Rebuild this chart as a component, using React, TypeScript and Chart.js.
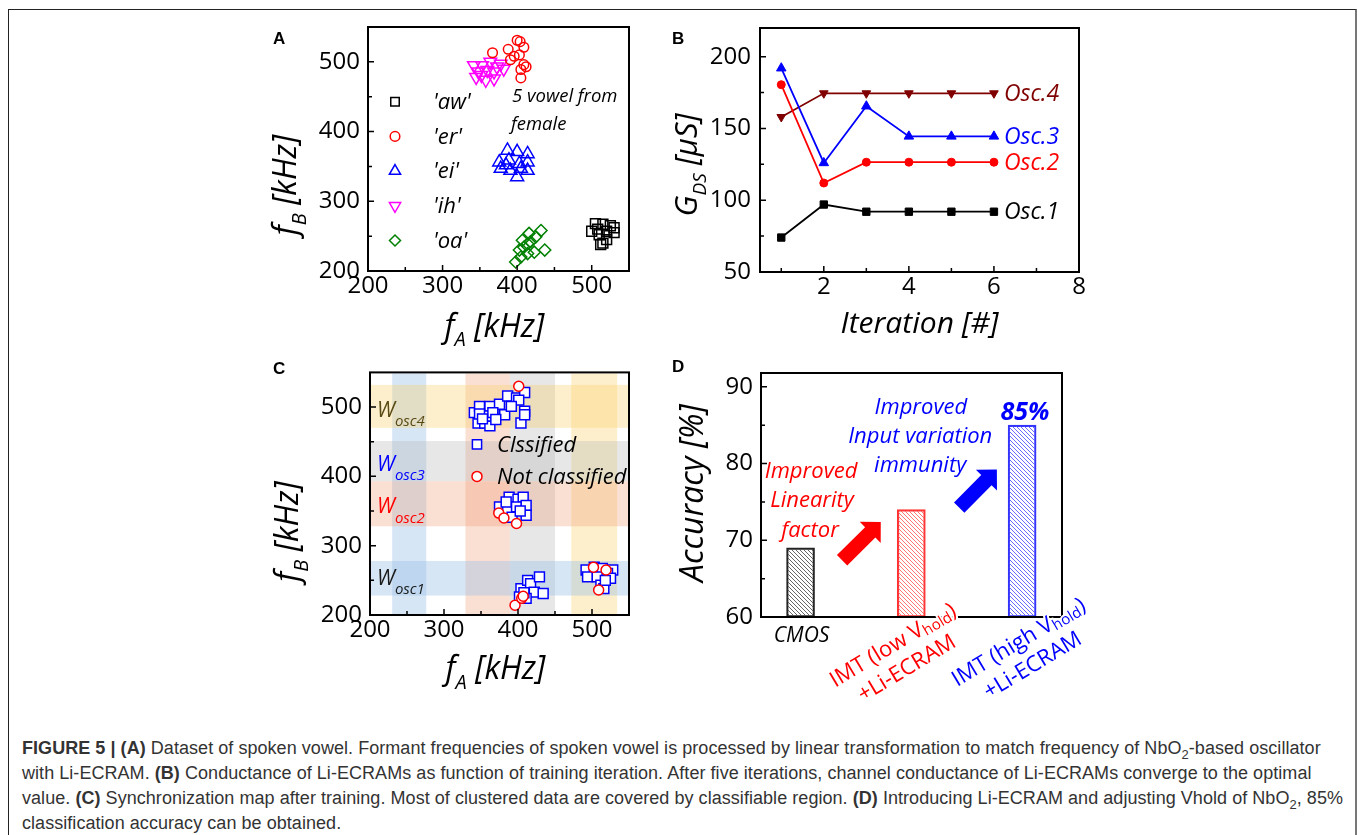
import React, { useEffect, useRef } from 'react';
import { Chart, registerables } from 'chart.js';

Chart.register(...registerables);

const FONT = '"Open Sans", "DejaVu Sans", sans-serif';

// ---------------- Panel A : vowel dataset ----------------
const vowelAW: number[][] = [[505,268],[515,267],[530,262],[500,257],[520,257],[530,255],[510,252],[515,240],[512,238],[520,245],[508,260],[525,265]];
const vowelER: number[][] = [[367,513],[388,518],[400,531],[404,529],[409,521],[403,510],[391,503],[409,496],[405,489],[405,477],[396,508],[412,493]];
const vowelEI: number[][] = [[387,373],[400,371],[414,368],[376,356],[389,359],[403,354],[414,356],[378,347],[391,344],[405,347],[414,344],[400,335],[385,352]];
const vowelIH: number[][] = [[342,495],[353,495],[364,500],[373,493],[348,486],[360,488],[369,486],[345,478],[358,474],[369,476],[382,490],[378,497],[352,481]];
const vowelOA: number[][] = [[398,213],[405,220],[414,225],[409,234],[418,242],[416,254],[425,249],[432,258],[437,230],[423,227],[407,244],[403,230],[414,239]];
const vowelNames = ["'aw'", "'er'", "'ei'", "'ih'", "'oa'"];
const freqTicks = [200, 300, 400, 500];
const freqMinor = [250, 350, 450];

// ---------------- Panel B : conductance vs iteration ----------------
const iterations = [1, 2, 3, 4, 5, 6];
const osc1 = [74, 97, 92, 92, 92, 92];
const osc2 = [180.5, 112, 126.5, 126.5, 126.5, 126.5];
const osc3 = [192, 126, 165.5, 144.5, 144.5, 144.5];
const osc4 = [158, 174.5, 174.5, 174.5, 174.5, 174.5];
const oscNames = ['Osc.1', 'Osc.2', 'Osc.3', 'Osc.4'];
const iterTicks = [2, 4, 6, 8];
const iterMinor = [1, 3, 5, 7];
const gdsTicks = [50, 100, 150, 200];
const gdsMinor = [75, 125, 175];

// ---------------- Panel C : synchronization map ----------------
const classified: number[][] = [
  [341,492],[348,501],[362,501],[375,504],[346,477],[355,477],[362,473],[366,487],[357,487],[382,489],[386,516],[398,513],[409,521],[401,510],[391,501],[409,494],[404,477],[409,489],[348,490],[366,492],[370,482],[352,483],
  [388,370],[400,367],[407,370],[375,356],[386,353],[398,356],[411,358],[392,341],[411,344],[384,363],[403,350],
  [404,238],[413,250],[417,245],[429,255],[422,233],[434,231],[411,224],[402,226],[408,232],
  [492,265],[503,269],[514,267],[528,265],[494,255],[507,255],[521,260],[525,253],[512,243],[516,238],[518,250],
];
const notClassified: number[][] = [[401,530],[374,347],[381,340],[398,332],[396,214],[405,224],[407,227],[502,269],[519,265],[509,236]];
const oscWindowsX: number[][] = [[230, 276], [329, 389], [389, 450], [472, 534]];
const oscWindowsY: number[][] = [[228, 278], [328, 393], [393, 451], [470, 532]];
const windowNames = ['osc1', 'osc2', 'osc3', 'osc4'];
const mapLegend = ['Clssified', 'Not classified'];

// ---------------- Panel D : accuracy ----------------
const systemPos = [1, 2, 3];
const accuracy = [69, 74, 85];
const accTicks = [60, 70, 80, 90];
const accMinor = [65, 75, 85];

type Part = { t: string; sub?: boolean };
const systemLabels: Part[][][] = [
  [[{ t: 'CMOS' }]],
  [[{ t: 'IMT (low V' }, { t: 'hold', sub: true }, { t: ')' }], [{ t: '+Li-ECRAM' }]],
  [[{ t: 'IMT (high V' }, { t: 'hold', sub: true }, { t: ')' }], [{ t: '+Li-ECRAM' }]],
];

// ---------------- helpers ----------------
type RichOpts = {
  size: number; color: string; italic?: boolean; bold?: boolean;
  align?: 'left' | 'center' | 'right'; angle?: number; baseline?: CanvasTextBaseline;
  subScale?: number; subDy?: number; halo?: boolean;
};
function drawRich(ctx: CanvasRenderingContext2D, parts: Part[], x: number, y: number, o: RichOpts) {
  const fontFor = (sub?: boolean) =>
    `${o.italic ? 'italic ' : ''}${o.bold ? 'bold ' : ''}${sub ? Math.round(o.size * (o.subScale ?? 0.62)) : o.size}px ${FONT}`;
  ctx.save();
  ctx.translate(x, y);
  if (o.angle) ctx.rotate(o.angle);
  ctx.textBaseline = o.baseline ?? 'alphabetic';
  ctx.textAlign = 'left';
  let total = 0;
  const widths = parts.map((p) => { ctx.font = fontFor(p.sub); const w = ctx.measureText(p.t).width; total += w; return w; });
  let cx = o.align === 'center' ? -total / 2 : o.align === 'right' ? -total : 0;
  parts.forEach((p, i) => {
    ctx.font = fontFor(p.sub);
    const dy = p.sub ? o.size * (o.subDy ?? 0.3) : 0;
    if (o.halo) { ctx.strokeStyle = '#fff'; ctx.lineWidth = 4; ctx.lineJoin = 'round'; ctx.strokeText(p.t, cx, dy); }
    ctx.fillStyle = o.color;
    ctx.fillText(p.t, cx, dy);
    cx += widths[i];
  });
  ctx.restore();
}

function drawMarker(ctx: CanvasRenderingContext2D, shape: string, x: number, y: number, r: number, stroke: string, fill: string) {
  ctx.save();
  ctx.beginPath();
  const tri = (start: number) => {
    for (let k = 0; k < 3; k++) {
      const a = start + (k * 2 * Math.PI) / 3;
      const px = x + Math.sin(a) * r, py = y - Math.cos(a) * r;
      if (k === 0) ctx.moveTo(px, py); else ctx.lineTo(px, py);
    }
  };
  if (shape === 'rect') { const s = r * Math.SQRT1_2; ctx.rect(x - s, y - s, 2 * s, 2 * s); }
  else if (shape === 'circle') ctx.arc(x, y, r, 0, Math.PI * 2);
  else if (shape === 'triangle') tri(0);
  else if (shape === 'triangleDown') tri(Math.PI);
  else if (shape === 'rectRot') { ctx.moveTo(x, y - r); ctx.lineTo(x + r, y); ctx.lineTo(x, y + r); ctx.lineTo(x - r, y); }
  ctx.closePath();
  ctx.fillStyle = fill; ctx.fill();
  ctx.strokeStyle = stroke; ctx.lineWidth = 1.5; ctx.stroke();
  ctx.restore();
}

function axis(min: number, max: number, ticks: number[], size: number, which: 'x' | 'y', pad: number, show = true) {
  return {
    type: 'linear' as const, min, max,
    grid: { display: false, drawTicks: false },
    border: { display: false },
    ticks: { display: show, font: { family: FONT, size: 24 }, color: '#000', padding: pad, autoSkip: false, maxRotation: 0 },
    afterBuildTicks: (s: any) => { s.ticks = ticks.map((v) => ({ value: v })); },
    afterFit: (s: any) => { if (which === 'x') s.height = size; else s.width = size; },
  };
}

function framePlugin(xMajor: number[], xMinor: number[], yMajor: number[], yMinor: number[]) {
  return {
    id: 'frameTicks',
    afterDatasetsDraw(chart: any) {
      const { ctx, chartArea: a } = chart;
      const xs = chart.scales.x, ys = chart.scales.y;
      ctx.save();
      ctx.strokeStyle = '#000';
      ctx.lineWidth = 1.5;
      ctx.beginPath();
      xMajor.forEach((v) => { const p = xs.getPixelForValue(v); ctx.moveTo(p, a.bottom); ctx.lineTo(p, a.bottom - 6); });
      xMinor.forEach((v) => { const p = xs.getPixelForValue(v); ctx.moveTo(p, a.bottom); ctx.lineTo(p, a.bottom - 4); });
      yMajor.forEach((v) => { const p = ys.getPixelForValue(v); ctx.moveTo(a.left, p); ctx.lineTo(a.left + 6, p); });
      yMinor.forEach((v) => { const p = ys.getPixelForValue(v); ctx.moveTo(a.left, p); ctx.lineTo(a.left + 4, p); });
      ctx.stroke();
      ctx.lineWidth = 2;
      ctx.strokeRect(a.left, a.top, a.right - a.left, a.bottom - a.top);
      ctx.restore();
    },
  };
}

const baseOptions = (pad: { top: number; right: number }) => ({
  responsive: false,
  animation: false as const,
  devicePixelRatio: 1,
  events: [] as any[],
  layout: { padding: { top: pad.top, right: pad.right, left: 0, bottom: 0 } },
  plugins: { legend: { display: false }, tooltip: { enabled: false }, title: { display: false } },
});

const scatterDs = (pts: number[][], color: string, style: string, r: number, rot = 0, fill = 'rgba(0,0,0,0)') => ({
  data: pts.map(([x, y]) => ({ x, y })),
  showLine: false,
  pointStyle: style as any,
  pointRadius: r,
  pointRotation: rot,
  pointBorderColor: color,
  pointBackgroundColor: fill,
  pointBorderWidth: 1.5,
  borderColor: color,
  backgroundColor: fill,
});

// ---------------- chart configs ----------------
const stylesA = [
  { color: '#000000', shape: 'rect', r: 7, rot: 0, lr: 6 },
  { color: '#ff0000', shape: 'circle', r: 4.8, rot: 0, lr: 4.8 },
  { color: '#0000ff', shape: 'triangle', r: 7.5, rot: 0, lr: 6.5 },
  { color: '#ff00ff', shape: 'triangle', r: 7.3, rot: 180, lr: 6.5 },
  { color: '#008000', shape: 'rectRot', r: 6, rot: 0, lr: 5.5 },
];

function configA(): any {
  const sets = [vowelAW, vowelER, vowelEI, vowelIH, vowelOA];
  return {
    type: 'scatter',
    data: { datasets: sets.map((s, i) => scatterDs(s, stylesA[i].color, stylesA[i].shape, stylesA[i].r, stylesA[i].rot)) },
    options: {
      ...baseOptions({ top: 27, right: 11 }),
      scales: { x: axis(200, 550, freqTicks, 84, 'x', 1), y: axis(200, 550, freqTicks, 108, 'y', 8) },
    },
    plugins: [
      framePlugin(freqTicks, freqMinor, freqTicks, freqMinor),
      {
        id: 'annotA',
        afterDatasetsDraw(chart: any) {
          const { ctx, chartArea: a } = chart;
          vowelNames.forEach((name, i) => {
            const st = stylesA[i];
            const y = a.top + 74.7 + i * 34.7;
            drawMarker(ctx, st.rot === 180 ? 'triangleDown' : st.shape, a.left + 27, y, st.lr, st.color, 'rgba(0,0,0,0)');
            drawRich(ctx, [{ t: name }], a.left + 65, y + 1, { size: 22, italic: true, color: '#000', baseline: 'middle' });
          });
          drawRich(ctx, [{ t: '5 vowel from' }], a.left + 144, a.top + 75, { size: 18.5, italic: true, color: '#000' });
          drawRich(ctx, [{ t: 'female' }], a.left + 143, a.top + 103, { size: 18.5, italic: true, color: '#000' });
          drawRich(ctx, [{ t: 'f' }, { t: 'A', sub: true }, { t: ' [kHz]' }], (a.left + a.right) / 2 - 4, a.bottom + 65.7, { size: 32, italic: true, color: '#000', align: 'center', subDy: 0.3 });
          drawRich(ctx, [{ t: 'f' }, { t: 'B', sub: true }, { t: ' [kHz]' }], a.left - 72, a.top + 158, { size: 32, italic: true, color: '#000', align: 'center', angle: -Math.PI / 2 });
        },
      },
    ],
  };
}

const oscSeries = [osc1, osc2, osc3, osc4];
const stylesB = [
  { color: '#000000', shape: 'rect', r: 5.2, rot: 0 },
  { color: '#ff0000', shape: 'circle', r: 4, rot: 0 },
  { color: '#0000ff', shape: 'triangle', r: 5.5, rot: 0 },
  { color: '#800000', shape: 'triangle', r: 5, rot: 180 },
];

function configB(): any {
  return {
    type: 'line',
    data: {
      datasets: oscSeries.map((s, i) => ({
        data: iterations.map((x, j) => ({ x, y: s[j] })),
        borderColor: stylesB[i].color,
        backgroundColor: stylesB[i].color,
        borderWidth: 1.8,
        pointStyle: stylesB[i].shape,
        pointRadius: stylesB[i].r,
        pointRotation: stylesB[i].rot,
        pointBorderWidth: 1,
        pointBackgroundColor: stylesB[i].color,
        pointBorderColor: stylesB[i].color,
        tension: 0,
      })),
    },
    options: {
      ...baseOptions({ top: 28, right: 21 }),
      scales: { x: axis(0.5, 8, iterTicks, 83, 'x', 1), y: axis(50, 220, gdsTicks, 100, 'y', 9) },
    },
    plugins: [
      framePlugin(iterTicks, iterMinor, gdsTicks, gdsMinor),
      {
        id: 'annotB',
        afterDatasetsDraw(chart: any) {
          const { ctx, chartArea: a, scales } = chart;
          oscSeries.forEach((s, i) => {
            const last = iterations.length - 1;
            const px = scales.x.getPixelForValue(iterations[last]) + 10;
            const py = scales.y.getPixelForValue(s[last]) + 1;
            drawRich(ctx, [{ t: oscNames[i] }], px, py, { size: 23, italic: true, color: stylesB[i].color, baseline: 'middle' });
          });
          drawRich(ctx, [{ t: 'Iteration [#]' }], (a.left + a.right) / 2, a.bottom + 61.3, { size: 30, italic: true, color: '#000', align: 'center' });
          drawRich(ctx, [{ t: 'G' }, { t: 'DS', sub: true }, { t: ' [\u03bcS]' }], a.left - 63, a.top + 137, { size: 31, italic: true, color: '#000', align: 'center', angle: -Math.PI / 2 });
        },
      },
    ],
  };
}

const bandColors = ['rgba(150,190,230,0.38)', 'rgba(240,150,110,0.30)', 'rgba(180,180,180,0.32)', 'rgba(250,205,100,0.33)'];
const windowTextColors = ['#1a1a1a', '#ff0000', '#0000ff', '#5a4a14'];
const windowLabelY = [244, 347, 408, 486];

function configC(): any {
  return {
    type: 'scatter',
    data: {
      datasets: [
        scatterDs(notClassified, '#ff0000', 'circle', 5, 0, '#ffffff'),
        scatterDs(classified, '#0000ff', 'rect', 7, 0, '#ffffff'),
      ],
    },
    options: {
      ...baseOptions({ top: 22, right: 11 }),
      scales: { x: axis(200, 550, freqTicks, 75, 'x', 1), y: axis(200, 550, freqTicks, 110, 'y', 8) },
    },
    plugins: [
      {
        id: 'bandsC',
        beforeDatasetsDraw(chart: any) {
          const { ctx, chartArea: a, scales } = chart;
          ctx.save();
          oscWindowsX.forEach(([lo, hi], i) => {
            const x0 = scales.x.getPixelForValue(lo), x1 = scales.x.getPixelForValue(hi);
            ctx.fillStyle = bandColors[i];
            ctx.fillRect(x0, a.top + 1, x1 - x0, a.bottom - a.top - 2);
          });
          oscWindowsY.forEach(([lo, hi], i) => {
            const y0 = scales.y.getPixelForValue(hi), y1 = scales.y.getPixelForValue(lo);
            ctx.fillStyle = bandColors[i];
            ctx.fillRect(a.left, y0, a.right - a.left, y1 - y0);
          });
          ctx.restore();
        },
      },
      framePlugin(freqTicks, freqMinor, freqTicks, freqMinor),
      {
        id: 'annotC',
        afterDatasetsDraw(chart: any) {
          const { ctx, chartArea: a, scales } = chart;
          windowNames.forEach((n, i) => {
            drawRich(ctx, [{ t: 'W' }, { t: n, sub: true }], a.left + 7, scales.y.getPixelForValue(windowLabelY[i]), { size: 21, italic: true, color: windowTextColors[i], subScale: 0.72, subDy: 0.45 });
          });
          drawMarker(ctx, 'rect', a.left + 107, a.top + 72, 6.5, '#0000ff', '#ffffff');
          drawMarker(ctx, 'circle', a.left + 107, a.top + 104, 5, '#ff0000', '#ffffff');
          drawRich(ctx, [{ t: mapLegend[0] }], a.left + 127, a.top + 73, { size: 22, italic: true, color: '#000', baseline: 'middle' });
          drawRich(ctx, [{ t: mapLegend[1] }], a.left + 127, a.top + 105, { size: 22, italic: true, color: '#000', baseline: 'middle' });
          drawRich(ctx, [{ t: 'f' }, { t: 'A', sub: true }, { t: ' [kHz]' }], (a.left + a.right) / 2 - 4, a.bottom + 64, { size: 32, italic: true, color: '#000', align: 'center' });
          drawRich(ctx, [{ t: 'f' }, { t: 'B', sub: true }, { t: ' [kHz]' }], a.left - 72, a.top + 159, { size: 32, italic: true, color: '#000', align: 'center', angle: -Math.PI / 2 });
        },
      },
    ],
  };
}

function hatch(color: string) {
  const s = 4;
  const c = document.createElement('canvas');
  c.width = s; c.height = s;
  const g = c.getContext('2d')!;
  g.strokeStyle = color; g.lineWidth = 0.9;
  for (const k of [-s, 0, s]) { g.beginPath(); g.moveTo(k, 0); g.lineTo(k + s, s); g.stroke(); }
  return g.createPattern(c, 'repeat')!;
}

const barBorders = ['#222222', '#ff3333', '#3333ff'];
const barHatch = ['#555555', '#ff6666', '#5a5aff'];
const labelColors = ['#000000', '#ff0000', '#0000ff'];
// rotated category label placement: [dx from category px, dy below axis] per line
const labelPlaces = [[[1, 25]], [[-15, 34], [-1, 57]], [[0, 31], [14, 54]]];

function arrow(ctx: CanvasRenderingContext2D, tx: number, ty: number, px: number, py: number, color: string) {
  const L = Math.hypot(px - tx, py - ty);
  const dx = (px - tx) / L, dy = (py - ty) / L;
  const nx = -dy, ny = dx;
  const head = 14.85, hh = 14.85, sh = 7.3;
  const bx = px - dx * head, by = py - dy * head;
  ctx.save();
  ctx.beginPath();
  ctx.moveTo(tx + nx * sh, ty + ny * sh);
  ctx.lineTo(bx + nx * sh, by + ny * sh);
  ctx.lineTo(bx + nx * hh, by + ny * hh);
  ctx.lineTo(px, py);
  ctx.lineTo(bx - nx * hh, by - ny * hh);
  ctx.lineTo(bx - nx * sh, by - ny * sh);
  ctx.lineTo(tx - nx * sh, ty - ny * sh);
  ctx.closePath();
  ctx.fillStyle = color;
  ctx.fill();
  ctx.restore();
}

const noteRed = ['Improved', 'Linearity', 'factor'];
const noteRedPos = [[1.095, 78.08], [1.104, 74.3], [1.086, 70.43]];
const noteBlue = ['Improved', 'Input variation', 'immunity'];
const noteBluePos = [[2.086, 86.52], [2.08, 82.69], [2.08, 78.9]];
const arrowRed = [[1.375, 67.39], [1.724, 72.39]];
const arrowBlue = [[2.432, 74.26], [2.772, 79.22]];

function configD(): any {
  return {
    type: 'bar',
    data: {
      datasets: [{
        data: systemPos.map((x, i) => ({ x, y: accuracy[i] })),
        backgroundColor: barHatch.map((c) => hatch(c)),
        borderColor: barBorders,
        borderWidth: 1.5,
        borderSkipped: false,
        barThickness: 28,
        base: 60,
      }],
    },
    options: {
      ...baseOptions({ top: 23, right: 38 }),
      scales: { x: axis(0.643, 3.36, [], 93, 'x', 1, false), y: axis(60, 91.8, accTicks, 101, 'y', 8) },
    },
    plugins: [
      framePlugin([], [], accTicks, accMinor),
      {
        id: 'annotD',
        afterDatasetsDraw(chart: any) {
          const { ctx, chartArea: a, scales } = chart;
          const X = (v: number) => scales.x.getPixelForValue(v);
          const Y = (v: number) => scales.y.getPixelForValue(v);
          noteRed.forEach((t, i) => drawRich(ctx, [{ t }], X(noteRedPos[i][0]), Y(noteRedPos[i][1]), { size: 22, italic: true, color: '#ff0000', align: 'center' }));
          noteBlue.forEach((t, i) => drawRich(ctx, [{ t }], X(noteBluePos[i][0]), Y(noteBluePos[i][1]), { size: 22, italic: true, color: '#0000ff', align: 'center' }));
          drawRich(ctx, [{ t: `${accuracy[2]}%` }], X(3.025), Y(85.65), { size: 25, italic: true, bold: true, color: '#0000ff', align: 'center' });
          arrow(ctx, X(arrowRed[0][0]), Y(arrowRed[0][1]), X(arrowRed[1][0]), Y(arrowRed[1][1]), '#ff0000');
          arrow(ctx, X(arrowBlue[0][0]), Y(arrowBlue[0][1]), X(arrowBlue[1][0]), Y(arrowBlue[1][1]), '#0000ff');
          systemLabels.forEach((lines, i) => {
            lines.forEach((parts, j) => {
              const [dx, dy] = labelPlaces[i][j];
              const rot = i === 0 ? 0 : -0.54;
              drawRich(ctx, parts, X(systemPos[i]) + dx, a.bottom + dy, {
                size: i === 0 ? 21 : 22, italic: i === 0, color: labelColors[i], align: 'center', angle: rot,
                subScale: 0.68, subDy: 0.12, halo: i !== 0,
              });
            });
          });
          drawRich(ctx, [{ t: 'Accuracy [%]' }], a.left - 58, a.top + 120, { size: 32, italic: true, color: '#000', align: 'center', angle: -Math.PI / 2 });
        },
      },
    ],
  };
}

const abs = (left: number, top: number): React.CSSProperties => ({ position: 'absolute', left, top });
const letter: React.CSSProperties = { position: 'absolute', fontFamily: '"Liberation Sans", Arial, sans-serif', fontWeight: 'bold', fontSize: 17, lineHeight: '17px', color: '#000' };
const subStyle: React.CSSProperties = { fontSize: '0.72em', verticalAlign: 'sub', lineHeight: 0 };

export default function App() {
  const refA = useRef<HTMLCanvasElement>(null);
  const refB = useRef<HTMLCanvasElement>(null);
  const refC = useRef<HTMLCanvasElement>(null);
  const refD = useRef<HTMLCanvasElement>(null);

  useEffect(() => {
    const charts = [
      new Chart(refA.current!, configA()),
      new Chart(refB.current!, configB()),
      new Chart(refC.current!, configC()),
      new Chart(refD.current!, configD()),
    ];
    return () => charts.forEach((c) => c.destroy());
  }, []);

  return (
    <div style={{ position: 'absolute', left: 0, top: 0, width: 1358, height: 835, overflow: 'hidden', background: '#fff' }}>
      <div style={{ position: 'absolute', left: 8, top: 9, width: 1346, height: 900, borderLeft: '1.5px solid #222', borderTop: '1.5px solid #222', borderRight: '2px solid #777' }} />
      <canvas ref={refA} width={380} height={355} style={abs(260, 0)} />
      <canvas ref={refB} width={440} height={355} style={abs(660, 0)} />
      <canvas ref={refC} width={380} height={340} style={abs(260, 350)} />
      <canvas ref={refD} width={440} height={360} style={abs(660, 350)} />
      <div style={{ ...letter, left: 273, top: 29.5 }}>A</div>
      <div style={{ ...letter, left: 672, top: 29.5 }}>B</div>
      <div style={{ ...letter, left: 273, top: 359.5 }}>C</div>
      <div style={{ ...letter, left: 672, top: 358 }}>D</div>
      <div style={{ position: 'absolute', left: 22, top: 735.5, fontFamily: '"Liberation Sans", Arial, sans-serif', fontSize: 18, letterSpacing: '0.05px', lineHeight: '25px', color: '#333', whiteSpace: 'nowrap' }}>
        <div><b>FIGURE 5 | (A)</b> Dataset of spoken vowel. Formant frequencies of spoken vowel is processed by linear transformation to match frequency of NbO<sub style={subStyle}>2</sub>-based oscillator</div>
        <div>with Li-ECRAM. <b>(B)</b> Conductance of Li-ECRAMs as function of training iteration. After five iterations, channel conductance of Li-ECRAMs converge to the optimal</div>
        <div>value. <b>(C)</b> Synchronization map after training. Most of clustered data are covered by classifiable region. <b>(D)</b> Introducing Li-ECRAM and adjusting Vhold of NbO<sub style={subStyle}>2</sub>, 85%</div>
        <div>classification accuracy can be obtained.</div>
      </div>
    </div>
  );
}
